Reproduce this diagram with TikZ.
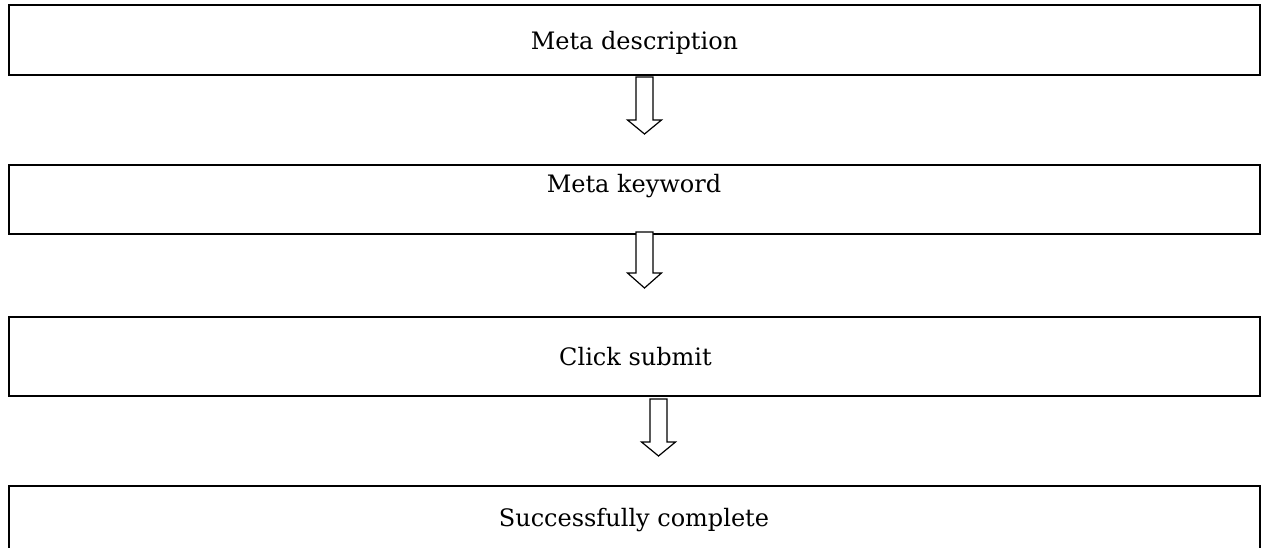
\documentclass[tikz,border=0pt]{standalone}
\usepackage{fontspec}
\setmainfont{DejaVu Serif}
\begin{document}
\begin{tikzpicture}[x=1pt,y=-1pt,
  stepbox/.style={draw=black,line width=1.8pt,rectangle,inner sep=0pt,minimum width=1251pt},
  steptext/.style={anchor=base,inner sep=0pt,font=\fontsize{24}{29}\selectfont},
  blockarrow/.style={draw=black,line width=1.2pt,fill=white,line join=miter}]
\clip (0,0) rectangle (1262,548);
\fill[white] (0,0) rectangle (1262,548);
% boxes
\node[stepbox,minimum height=70pt] (box1) at (634.5,40) {};
\node[stepbox,minimum height=69pt] (box2) at (634.5,199.5) {};
\node[stepbox,minimum height=79pt] (box3) at (634.5,356.5) {};
\node[stepbox,minimum height=84pt] (box4) at (634.5,528) {};
% texts
\node[steptext] (t1) at (634.5,49.3) {Meta description};
\node[steptext] (t2) at (634,192.7) {Meta keyword};
\node[steptext] (t3) at (635.5,366) {Click submit};
\node[steptext] (t4) at (634,526) {Successfully complete};
% hollow block arrows
\newcommand\blkarrow[4]{% x centre, top, shaft end, tip
  \draw[blockarrow] (#1-8.5,#2) -- (#1+8.5,#2) -- (#1+8.5,#3) -- (#1+17,#3)
    -- (#1,#4) -- (#1-17,#3) -- (#1-8.5,#3) -- cycle;}
\blkarrow{644.5}{77}{120}{134}
\blkarrow{644.5}{232}{273}{288}
\blkarrow{658.5}{399}{442}{456}
\end{tikzpicture}
\end{document}
